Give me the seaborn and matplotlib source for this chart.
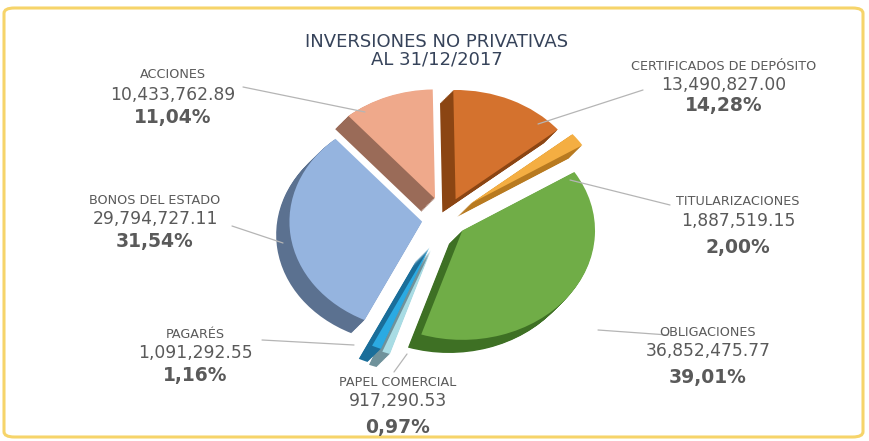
import matplotlib
matplotlib.use("Agg")
import matplotlib.pyplot as plt
from matplotlib.patches import FancyBboxPatch
from matplotlib.lines import Line2D
import seaborn as sns

# data (clockwise from top)
categorias = ["CERTIFICADOS DE DEPÓSITO", "TITULARIZACIONES", "OBLIGACIONES",
              "PAPEL COMERCIAL", "PAGARÉS", "BONOS DEL ESTADO", "ACCIONES"]
montos = [13490827.00, 1887519.15, 36852475.77, 917290.53, 1091292.55,
          29794727.11, 10433762.89]
porcentajes = ["14,28%", "2,00%", "39,01%", "0,97%", "1,16%", "31,54%", "11,04%"]
montos_txt = ["13,490,827.00", "1,887,519.15", "36,852,475.77", "917,290.53",
              "1,091,292.55", "29,794,727.11", "10,433,762.89"]

top_colors = ["#D4722E", "#F4AE42", "#70AD47", "#A8DCE4", "#2BAAE2", "#95B4DF", "#EFA98B"]
side_colors = ["#8B4513", "#B87A20", "#3E7024", "#6F929B", "#1A6E9A", "#5B7190", "#9A6B58"]
explode = [0.2, 0.24, 0.17, 0.3, 0.28, 0.17, 0.2]

sns.set_theme(style="white")
plt.rcParams['font.family'] = ['DejaVu Sans']

W, H = 869, 441
fig = plt.figure(figsize=(W / 100, H / 100), dpi=100)
fig.patch.set_facecolor("white")

# yellow rounded frame
frame = FancyBboxPatch((4 / W, 4 / H), 1 - 10 / W, 1 - 12 / H,
                       boxstyle="round,pad=0,rounding_size=0.012",
                       transform=fig.transFigure, fill=False,
                       edgecolor="#F6D46A", linewidth=2.2)
fig.add_artist(frame)

def px(x, y):
    return x / W, 1 - y / H

# pie axes
ax = fig.add_axes([272 / W, 1 - 370 / H, 345 / W, 282 / H])
ax.axis("off")

# extruded side (3D look), shifted down-left
n = 16
dx, dy = -0.1, -0.12
for k in range(n, 0, -1):
    f = k / n
    ax.pie(montos, colors=side_colors, startangle=91, counterclock=False,
           explode=explode, center=(dx * f, dy * f), radius=1.0,
           wedgeprops=dict(linewidth=0))
ax.pie(montos, colors=top_colors, startangle=91, counterclock=False,
       explode=explode, center=(0, 0), radius=1.0,
       wedgeprops=dict(linewidth=0))
ax.set_xlim(-1.3, 1.3)
ax.set_ylim(-1.38, 1.2)
ax.set_aspect("auto")

# title
fig.text(*px(437, 42), "INVERSIONES NO PRIVATIVAS", ha="center", va="center",
         fontsize=13, color="#36435A")
fig.text(*px(437, 60), "AL 31/12/2017", ha="center", va="center",
         fontsize=13, color="#36435A")

# label positions (name, number, percent) and leader lines
label_pos = {
    "CERTIFICADOS DE DEPÓSITO": ((724, 66), (724, 85), (724, 106)),
    "TITULARIZACIONES": ((738, 201), (738, 221), (738, 247)),
    "OBLIGACIONES": ((708, 333), (708, 351), (708, 378)),
    "PAPEL COMERCIAL": ((398, 382), (398, 401), (398, 427)),
    "PAGARÉS": ((195, 335), (195, 353), (195, 376)),
    "BONOS DEL ESTADO": ((155, 200), (155, 219), (155, 242)),
    "ACCIONES": ((173, 75), (173, 95), (173, 118)),
}
leaders = {
    "CERTIFICADOS DE DEPÓSITO": ((538, 124), (643, 90)),
    "TITULARIZACIONES": ((570, 180), (670, 205)),
    "OBLIGACIONES": ((598, 330), (668, 335)),
    "PAPEL COMERCIAL": ((394, 372), (407, 354)),
    "PAGARÉS": ((262, 340), (354, 345)),
    "BONOS DEL ESTADO": ((232, 226), (283, 243)),
    "ACCIONES": ((243, 87), (365, 112)),
}

txt_color = "#5A5A5A"
for cat, m, p in zip(categorias, montos_txt, porcentajes):
    (n_xy, m_xy, p_xy) = label_pos[cat]
    fig.text(*px(*n_xy), cat, ha="center", va="center", fontsize=9.2, color=txt_color)
    fig.text(*px(*m_xy), m, ha="center", va="center", fontsize=12.3, color=txt_color)
    fig.text(*px(*p_xy), p, ha="center", va="center", fontsize=13.5,
             fontweight="bold", color=txt_color)
    (a, b) = leaders[cat]
    fig.add_artist(Line2D([a[0] / W, b[0] / W], [1 - a[1] / H, 1 - b[1] / H],
                          transform=fig.transFigure, color="#B5B5B5", linewidth=0.9))

fig.savefig("out.png", dpi=100, facecolor="white")
